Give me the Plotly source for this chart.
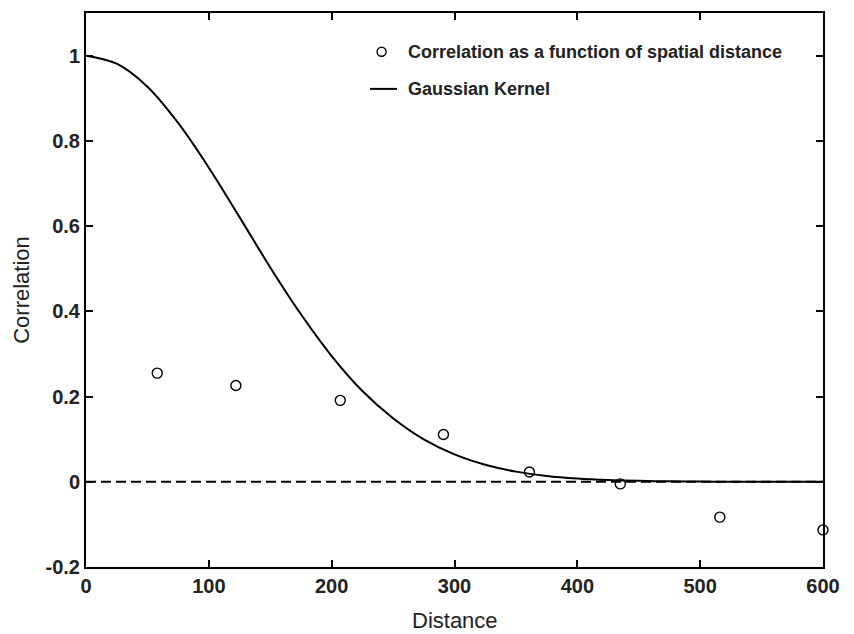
import plotly.graph_objects as go

# ---- data ----
dist_points = [58, 122, 207, 291, 361, 435, 516, 600]
corr_points = [0.255, 0.226, 0.191, 0.111, 0.023, -0.005, -0.083, -0.113]

kernel_x = [0, 25, 50, 75, 100, 125, 150, 175, 200, 225, 250, 275, 300, 325,
            350, 375, 400, 425, 450, 475, 500, 525, 550, 575, 600]
kernel_y = [1.0, 0.981, 0.927, 0.842, 0.737, 0.621, 0.503, 0.393, 0.295, 0.213,
            0.149, 0.0995, 0.0641, 0.0398, 0.0238, 0.0137, 0.0076, 0.0040,
            0.0021, 0.0010, 0.0005, 0.0002, 0.0001, 0.0, 0.0]

zero_x = [0, 600]
zero_y = [0, 0]

x_ticks = [0, 100, 200, 300, 400, 500, 600]
y_ticks = [-0.2, 0, 0.2, 0.4, 0.6, 0.8, 1]
y_tick_text = ["-0.2", "0", "0.2", "0.4", "0.6", "0.8", "1"]

legend_labels = ["Correlation as a function of spatial distance", "Gaussian Kernel"]
x_title = "Distance"
y_title = "Correlation"

FONT = "Liberation Sans, Arial, Helvetica, sans-serif"

fig = go.Figure()
fig.add_trace(go.Scatter(x=zero_x, y=zero_y, mode="lines",
                         line=dict(color="black", width=1.8, dash="10px,5px"),
                         showlegend=False, hoverinfo="skip"))
fig.add_trace(go.Scatter(x=kernel_x, y=kernel_y, mode="lines",
                         line=dict(color="black", width=2, shape="spline"),
                         name=legend_labels[1], showlegend=False))
fig.add_trace(go.Scatter(x=dist_points, y=corr_points, mode="markers",
                         marker=dict(symbol="circle-open", size=10,
                                     color="black", line=dict(width=1.4, color="black")),
                         name=legend_labels[0], showlegend=False, cliponaxis=False))

# manual legend (inside the plot, top right)
row1_y = 0.930
row2_y = 0.863
fig.add_shape(type="circle", xref="paper", yref="paper",
              xsizemode="pixel", ysizemode="pixel",
              xanchor=0.4011, yanchor=row1_y, x0=-4.5, x1=4.5, y0=-4.5, y1=4.5,
              line=dict(color="black", width=1.4))
fig.add_shape(type="line", xref="paper", yref="paper",
              x0=0.3853, x1=0.4220, y0=row2_y, y1=row2_y,
              line=dict(color="black", width=2))
for lab, yy in zip(legend_labels, [row1_y, row2_y]):
    fig.add_annotation(xref="paper", yref="paper", x=0.4342, y=yy,
                       xanchor="left", yanchor="middle", showarrow=False,
                       text="<b>%s</b>" % lab,
                       font=dict(family=FONT, size=18, color="#222222"))

# x-axis title placed below the tick labels
fig.add_annotation(xref="paper", yref="paper", x=0.5, y=-0.071,
                   xanchor="center", yanchor="top", showarrow=False,
                   text=x_title, font=dict(family=FONT, size=22, color="#222222"))

axis_common = dict(
    showline=True, linecolor="black", linewidth=2, mirror="ticks",
    ticks="inside", ticklen=7, tickwidth=1.5, tickcolor="black",
    showgrid=False, zeroline=False, automargin=False,
    tickfont=dict(family=FONT, size=20, color="#222222", weight="bold"),
)

fig.update_layout(
    width=854, height=634,
    margin=dict(l=86, r=31, t=13, b=67),
    paper_bgcolor="white", plot_bgcolor="white",
    font=dict(family=FONT, color="#222222"),
    xaxis=dict(range=[0, 600], tickvals=x_ticks, ticktext=[str(v) for v in x_ticks],
               **axis_common),
    yaxis=dict(range=[-0.2, 1.1], tickvals=y_ticks, ticktext=y_tick_text,
               title=dict(text=y_title, font=dict(family=FONT, size=22, color="#222222"),
                          standoff=10),
               **axis_common),
)

fig.write_html("out.html")
